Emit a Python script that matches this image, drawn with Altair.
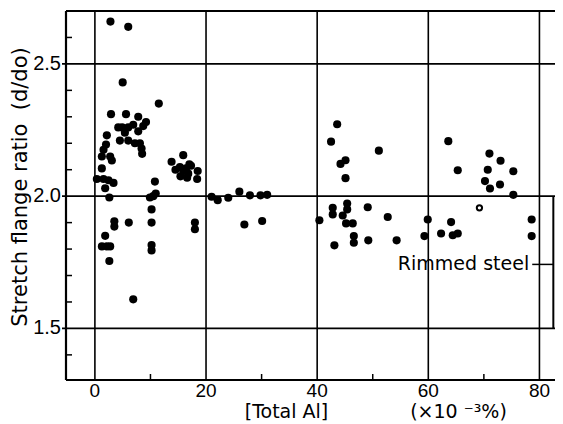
import altair as alt
import pandas as pd

# ---- data ----
filled_x = [2.8, 6.0, 5.0, 11.5,
            2.9, 5.6, 7.8, 9.2,
            4.2, 4.9, 6.0, 6.9, 8.7,
            5.4, 7.8,
            4.5, 6.0, 7.2, 8.1, 8.4, 8.5,
            2.15, 2.0, 1.55, 1.25, 2.75, 3.05, 1.25,
            0.35, 1.55, 2.45, 3.35, 1.85, 2.6,
            10.8, 9.9, 10.5, 10.95, 10.2,
            3.5, 3.5, 6.1, 10.2, 10.2, 10.2,
            1.85, 1.26, 2.15, 2.75, 2.6, 6.9,
            13.8, 15.9, 14.5, 15.3, 15.9, 16.4, 16.8, 15.4, 16.6, 17.3, 18.5, 18.4, 17.0,
            18.0, 18.0,
            21.0, 22.1, 24.0, 26.0, 27.9, 29.8, 31.0, 26.9, 30.1,
            43.6, 42.5, 51.1, 45.1, 44.2, 45.1,
            40.4, 42.8, 42.8, 45.4, 45.4, 44.6, 45.2, 46.4, 49.1, 52.7, 43.1, 46.6, 46.6, 49.2, 54.3,
            59.9, 59.3, 62.3, 64.1, 64.4, 65.3, 78.6, 78.6,
            63.6, 65.3, 71.0, 73.0, 70.7, 75.3, 70.2, 71.1, 72.9, 75.3]
filled_y = [2.66, 2.64, 2.43, 2.35,
            2.31, 2.31, 2.30, 2.28,
            2.26, 2.26, 2.26, 2.27, 2.265,
            2.24, 2.245,
            2.21, 2.21, 2.20, 2.20, 2.18, 2.16,
            2.23, 2.195, 2.175, 2.15, 2.15, 2.135, 2.105,
            2.065, 2.065, 2.06, 2.05, 2.03, 1.995,
            2.055, 1.995, 2.0, 2.01, 1.95,
            1.905, 1.885, 1.90, 1.90, 1.815, 1.795,
            1.85, 1.81, 1.81, 1.81, 1.755, 1.61,
            2.13, 2.155, 2.10, 2.11, 2.095, 2.105, 2.085, 2.075, 2.07, 2.115, 2.095, 2.065, 2.12,
            1.90, 1.875,
            1.998, 1.985, 1.994, 2.017, 2.003, 2.003, 2.005, 1.893, 1.906,
            2.272, 2.206, 2.172, 2.136, 2.122, 2.068,
            1.909, 1.956, 1.931, 1.972, 1.95, 1.927, 1.897, 1.897, 1.958, 1.921, 1.814, 1.849, 1.824, 1.833, 1.833,
            1.912, 1.849, 1.859, 1.902, 1.852, 1.859, 1.912, 1.849,
            2.208, 2.098, 2.161, 2.134, 2.10, 2.094, 2.057, 2.029, 2.044, 2.005]
open_x = [69.2]
open_y = [1.956]

x_ticks = [0, 20, 40, 60, 80]
x_tick_labels = ["0", "20", "40", "60", "80"]
y_ticks = [1.5, 2.0, 2.5]
y_tick_labels = ["1.5", "2.0", "2.5"]
x_minor = [10, 30, 50, 70]
y_minor = [1.4, 1.6, 1.7, 1.8, 1.9, 2.1, 2.2, 2.3, 2.4, 2.6]

bracket_x = [82.5]
bracket_top = [2.0]
bracket_bottom = [1.5]
label_y = [1.742]
label_x_end = [78.15]
leader_start = [78.7]
label_text = ["Rimmed steel"]

y_title = "Stretch flange ratio \u00a0(d/do)"
x_title_1 = "[Total Al]"
x_title_2 = "(\u00d710 \u207b\u00b3%)"

W, H = 489, 369
xs = alt.Scale(domain=[-5.2, 82.8], nice=False, zero=False)
ys = alt.Scale(domain=[1.305, 2.70], nice=False, zero=False)

pts = pd.DataFrame({"x": filled_x, "y": filled_y})
opn = pd.DataFrame({"x": open_x, "y": open_y})
one = pd.DataFrame({"k": [0]})

points = alt.Chart(pts).mark_circle(size=66, color="black", opacity=1).encode(
    x=alt.X("x:Q", scale=xs, axis=None), y=alt.Y("y:Q", scale=ys, axis=None))

opens = alt.Chart(opn).mark_point(shape="circle", size=28, strokeWidth=2, color="black",
                                  filled=False, opacity=1).encode(
    x=alt.X("x:Q", scale=xs, axis=None), y=alt.Y("y:Q", scale=ys, axis=None))

ygrid = alt.Chart(pd.DataFrame({"v": y_ticks, "t": y_tick_labels})).mark_rule(
    color="black", strokeWidth=1.6).encode(
    y=alt.Y("v:Q", scale=ys, axis=None), x=alt.value(-4), x2=alt.value(W))
ylab = alt.Chart(pd.DataFrame({"v": y_ticks, "t": y_tick_labels})).mark_text(
    align="right", baseline="middle", font="Liberation Sans", fontSize=20, color="black").encode(
    y=alt.Y("v:Q", scale=ys, axis=None), x=alt.value(-5), text="t:N")

xgrid = alt.Chart(pd.DataFrame({"v": x_ticks, "t": x_tick_labels})).mark_rule(
    color="black", strokeWidth=1.6).encode(
    x=alt.X("v:Q", scale=xs, axis=None), y=alt.value(0), y2=alt.value(H))
xlab = alt.Chart(pd.DataFrame({"v": x_ticks, "t": x_tick_labels})).mark_text(
    align="center", baseline="top", font="Liberation Sans", fontSize=19, color="black").encode(
    x=alt.X("v:Q", scale=xs, axis=None), y=alt.value(H + 2), text="t:N")

ymin = alt.Chart(pd.DataFrame({"v": y_minor})).mark_rule(color="black", strokeWidth=1.5).encode(
    y=alt.Y("v:Q", scale=ys, axis=None), x=alt.value(0), x2=alt.value(6))

xmin = alt.Chart(pd.DataFrame({"v": x_minor})).mark_rule(color="black", strokeWidth=1.5).encode(
    x=alt.X("v:Q", scale=xs, axis=None), y=alt.value(H), y2=alt.value(H - 6))

top = alt.Chart(one).mark_rule(color="black", strokeWidth=2).encode(
    x=alt.value(0), x2=alt.value(W), y=alt.value(0))
left = alt.Chart(one).mark_rule(color="black", strokeWidth=2.2).encode(
    x=alt.value(0), y=alt.value(0), y2=alt.value(H))
bottom = alt.Chart(one).mark_rule(color="black", strokeWidth=2.2).encode(
    x=alt.value(0), x2=alt.value(W), y=alt.value(H))

br = pd.DataFrame({"bx": bracket_x, "bt": bracket_top, "bb": bracket_bottom,
                   "ly": label_y, "lx": label_x_end, "ls": leader_start, "t": label_text})
bracket = alt.Chart(br).mark_rule(color="black", strokeWidth=2).encode(
    x=alt.X("bx:Q", scale=xs, axis=None), y=alt.Y("bt:Q", scale=ys, axis=None), y2="bb:Q")
leader = alt.Chart(br).mark_rule(color="black", strokeWidth=1.5).encode(
    x=alt.X("ls:Q", scale=xs, axis=None), x2="bx:Q", y=alt.Y("ly:Q", scale=ys, axis=None))
rlabel = alt.Chart(br).mark_text(align="right", baseline="middle", font="DejaVu Sans",
                                 fontSize=19, color="black").encode(
    x=alt.X("lx:Q", scale=xs, axis=None), y=alt.Y("ly:Q", scale=ys, axis=None), text="t:N")

ytitle = alt.Chart(pd.DataFrame({"t": [y_title]})).mark_text(
    align="center", baseline="middle", angle=270, font="DejaVu Sans", fontSize=21,
    color="black").encode(x=alt.value(-45), y=alt.value(176), text="t:N")

xt1 = alt.Chart(pd.DataFrame({"t": [x_title_1]})).mark_text(
    align="center", baseline="alphabetic", font="DejaVu Sans", fontSize=19, color="black").encode(
    x=alt.value(220.5), y=alt.value(H + 38), text="t:N")
xt2 = alt.Chart(pd.DataFrame({"t": [x_title_2]})).mark_text(
    align="center", baseline="alphabetic", font="DejaVu Sans", fontSize=19, color="black").encode(
    x=alt.value(392.5), y=alt.value(H + 38), text="t:N")

chart = alt.layer(ygrid, xgrid, ymin, xmin, top, left, bottom, bracket, leader,
                  points, opens, ylab, xlab, rlabel, ytitle, xt1, xt2).properties(
    width=W, height=H,
    autosize=alt.AutoSizeParams(type="none"),
    padding={"left": 58, "top": 3, "right": 0, "bottom": 42},
    background="white",
).configure_view(stroke=None)

chart.save("out.html", embed_options={"renderer": "svg", "actions": False})
